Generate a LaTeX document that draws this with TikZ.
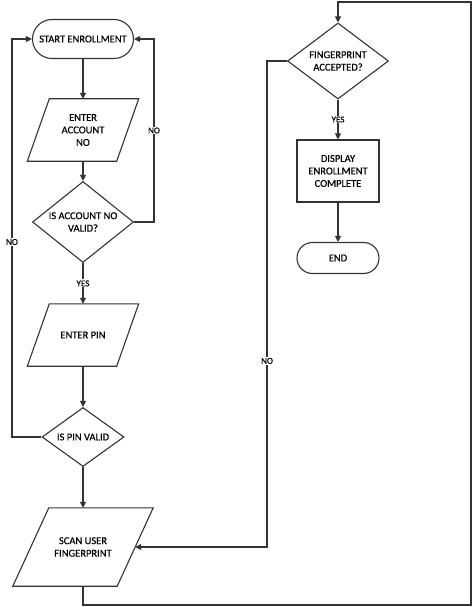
\documentclass[tikz,border=0pt]{standalone}
\usepackage{fontspec}
\setmainfont{Carlito}[UprightFeatures={FakeBold=0.5}]
\usetikzlibrary{shapes.geometric,arrows.meta}
\tikzset{
  txt/.style={align=center, font=\fontsize{10.5}{12.5}\selectfont},
  base/.style={draw=black!80, line width=1.1pt, txt, inner sep=1pt},
  term/.style={base, rectangle, rounded corners=#1, minimum height=2*#1},
  io/.style={txt, rectangle, inner sep=1pt},
  dec/.style={base, diamond},
  proc/.style={base, rectangle},
  conn/.style={draw=black!80, line width=1.1pt},
  shape line/.style={conn, line join=miter},
  arr/.style={conn, -{Triangle[length=6pt,width=6pt]}},
  lbl/.style={fill=white, inner sep=1pt, font=\fontsize{9}{10}\selectfont}
}
\begin{document}
\begin{tikzpicture}[x=1pt,y=-1pt]
\useasboundingbox (0,0) rectangle (473,607);
\node[term=19.5pt, minimum width=101pt] (start) at (83,39) {START ENROLLMENT};
\node[io, minimum width=89pt, minimum height=62pt] (acct) at (83,130) {ENTER\\ACCOUNT\\NO};
\node[dec, minimum width=101pt, minimum height=81pt, label={[txt]center:IS ACCOUNT NO\\VALID?}] (valid) at (83,222) {};
\node[io, minimum width=89pt, minimum height=62pt] (pin) at (83,335) {ENTER PIN};
\node[dec, minimum width=82pt, minimum height=59pt, label={[txt]center:IS PIN VALID}] (pinvalid) at (83,437) {};
\node[io, minimum width=104pt, minimum height=78pt] (scan) at (83,547) {SCAN USER\\FINGERPRINT};
\node[dec, minimum width=101pt, minimum height=76pt, label={[txt]center:FINGERPRINT\\ACCEPTED?}] (fp) at (338,61) {};
\node[proc, minimum width=82pt, minimum height=62pt] (disp) at (338,171) {DISPLAY\\ENROLLMENT\\COMPLETE};
\node[term=15.5pt, minimum width=82pt] (end) at (338,258) {END};

% parallelogram outlines
\foreach \n/\s in {acct/11pt, pin/11pt, scan/18pt}{
  \draw[shape line] ([xshift=\s]\n.north west) -- ([xshift=\s]\n.north east)
    -- ([xshift=-\s]\n.south east) -- ([xshift=-\s]\n.south west) -- cycle;
}

\coordinate (r1) at (154,222);
\coordinate (r2) at (154,39);
\coordinate (l1) at (12,437);
\coordinate (l2) at (12,39);
\coordinate (b1) at (83,605);
\coordinate (b2) at (471,605);
\coordinate (b3) at (471,2);
\coordinate (b4) at (338,2);
\coordinate (n1) at (267,61);
\coordinate (n2) at (267,547);

\draw[arr] (start) -- (acct);
\draw[arr] (acct) -- (valid);
\draw[arr] (valid.east) -- (r1) -- node[lbl]{NO} (r2) -- (start.east);
\draw[arr] (valid) -- node[lbl]{YES} (pin);
\draw[arr] (pin) -- (pinvalid);
\draw[arr] (pinvalid.west) -- (l1) -- node[lbl, pos=0.49]{NO} (l2) -- (start.west);
\draw[arr] (pinvalid) -- (scan);
\draw[arr] (scan.south) -- (b1) -- (b2) -- (b3) -- (b4) -- (fp.north);
\draw[arr] (fp.west) -- (n1) -- node[lbl, pos=0.617]{NO} (n2) -- (scan.east);
\draw[arr] (fp) -- node[lbl]{YES} (disp);
\draw[arr] (disp) -- (end);
\end{tikzpicture}
\end{document}
